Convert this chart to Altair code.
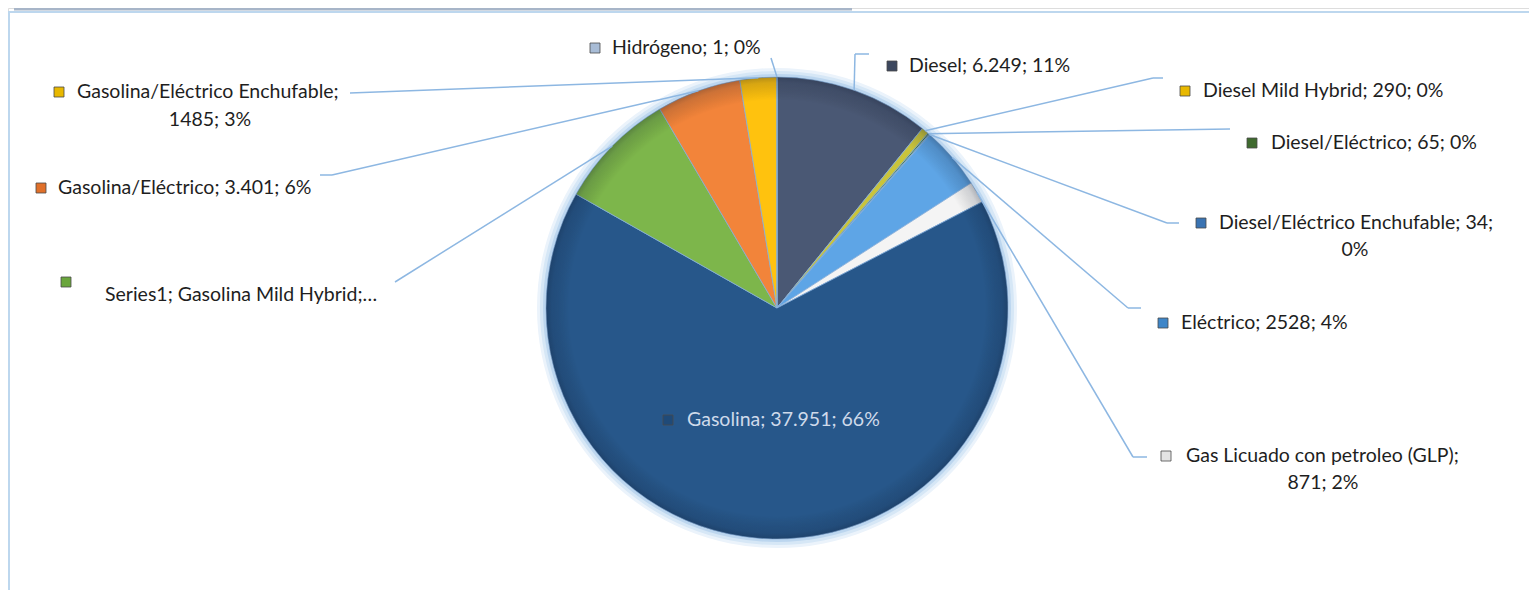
import altair as alt
import pandas as pd

# ---------------- data ----------------
categories = [
    "Diesel", "Diesel Mild Hybrid", "Diesel/Eléctrico", "Diesel/Eléctrico Enchufable",
    "Eléctrico", "Gas Licuado con petroleo (GLP)", "Gasolina", "Gasolina Mild Hybrid",
    "Gasolina/Eléctrico", "Gasolina/Eléctrico Enchufable", "Hidrógeno",
]
values = [6249, 290, 65, 34, 2528, 871, 37951, 4800, 3401, 1485, 1]
label_main = [
    "Diesel; 6.249; 11%", "Diesel Mild Hybrid; 290; 0%", "Diesel/Eléctrico; 65; 0%",
    "Diesel/Eléctrico Enchufable; 34;", "Eléctrico; 2528; 4%", "Gas Licuado con petroleo (GLP);",
    "Gasolina; 37.951; 66%", "Series1; Gasolina Mild Hybrid;…", "Gasolina/Eléctrico; 3.401; 6%",
    "Gasolina/Eléctrico Enchufable;", "Hidrógeno; 1; 0%",
]
label_second = ["", "", "", "0%", "", "871; 2%", "", "", "", "1485; 3%", ""]
slice_colors = [
    "#4a5874", "#c9c43c", "#4f7d3a", "#3f7cc0", "#5ea5e6", "#f4f4f4",
    "#27578a", "#7db64b", "#f2843a", "#ffc20e", "#b8cbe2",
]
icon_colors = [
    "#3c475e", "#e8b800", "#3f6a2e", "#3a73b2", "#3f86c8", "#e4e4e4",
    "#1f4a78", "#6aa63c", "#e0702a", "#e8b800", "#a8bcd6",
]

# ---------------- layout (page pixels) ----------------
OFF = 8
CX, CY, R = 777 - OFF, 308 - OFF, 231
icon_x = [892, 1185, 1252, 1201, 1163, 1166, 668, 66, 41, 59, 595]
icon_y = [66, 91, 143, 223, 323, 456, 420, 282, 188, 92, 48]
text_x = [909, 1203, 1271, 1219, 1181, 1186, 687, 105, 58, 77, 612]
text_y = [66, 91, 143, 223, 323, 456, 420, 295, 188, 92, 48]
line2_x = [0, 0, 0, 1355, 0, 1323, 0, 0, 0, 210, 0]
line2_y = [0, 0, 0, 250, 0, 483, 0, 0, 0, 120, 0]
elbow_x = [855, 1153, 1230, 1167, 1128, 1133, 0, 395, 332, 350, 771]
elbow_y = [54, 78, 129, 223, 308, 457, 0, 282, 175, 93, 58]
end_x = [869, 1163, 1230, 1179, 1141, 1147, 0, 395, 320, 350, 771]
end_y = [54, 78, 129, 223, 308, 457, 0, 282, 175, 93, 58]
has_line = [1, 1, 1, 1, 1, 1, 0, 1, 1, 1, 1]
text_color = ["#1e1e1e"] * 6 + ["#cfdaea"] + ["#1e1e1e"] * 4

FONT = "Lato"
FS = 19.5

df = pd.DataFrame({
    "cat": categories, "value": values, "ord": list(range(len(categories))),
    "lab": label_main, "lab2": label_second, "tcol": text_color, "icol": icon_colors,
    "ix": [v - OFF for v in icon_x], "iy": [v - OFF for v in icon_y],
    "tx": [v - OFF for v in text_x], "ty": [v - OFF for v in text_y],
    "l2x": [v - OFF for v in line2_x], "l2y": [v - OFF for v in line2_y],
    "ex": [v - OFF for v in elbow_x], "ey": [v - OFF for v in elbow_y],
    "fx": [v - OFF for v in end_x], "fy": [v - OFF for v in end_y],
    "has_line": has_line,
})

color_scale = alt.Scale(domain=categories, range=slice_colors)
one = pd.DataFrame({"k": [0]})

W, H = 1521, 582

# frame lines
top_gray = alt.Chart(one).mark_rule(color="#a7b5c8", strokeWidth=3).encode(
    x=alt.value(6), x2=alt.value(852 - OFF), y=alt.value(1))
frame_top = alt.Chart(one).mark_rule(color="#bdd7ee", strokeWidth=2).encode(
    x=alt.value(0), x2=alt.value(W), y=alt.value(4))
frame_left = alt.Chart(one).mark_rule(color="#bdd7ee", strokeWidth=2).encode(
    x=alt.value(1), y=alt.value(4), y2=alt.value(H))

# glow around pie
glow1 = alt.Chart(one).mark_arc(radius=R + 9, theta=0, theta2=6.2832, fill="#ebf3fb").encode(
    x=alt.value(CX), y=alt.value(CY))
glow2 = alt.Chart(one).mark_arc(radius=R + 6, theta=0, theta2=6.2832, fill="#d6e7f6").encode(
    x=alt.value(CX), y=alt.value(CY))
glow3 = alt.Chart(one).mark_arc(radius=R + 3, theta=0, theta2=6.2832, fill="#bcd6ef").encode(
    x=alt.value(CX), y=alt.value(CY))

pie = alt.Chart(df).mark_arc(radius=R, stroke="#86aedb", strokeWidth=0.8).encode(
    theta=alt.Theta("value:Q", stack=True),
    order=alt.Order("ord:Q", sort="ascending"),
    color=alt.Color("cat:N", scale=color_scale, legend=None),
    x=alt.value(CX), y=alt.value(CY),
)

rim = alt.Chart(one).mark_arc(
    radius=R, theta=0, theta2=6.2832,
    fill=alt.Gradient(
        gradient="radial", x1=0.5, y1=0.5, x2=0.5, y2=0.5, r1=0, r2=0.5,
        stops=[
            alt.GradientStop(offset=0, color="rgba(0,0,0,0)"),
            alt.GradientStop(offset=0.9, color="rgba(0,0,0,0)"),
            alt.GradientStop(offset=0.975, color="rgba(10,20,40,0.16)"),
            alt.GradientStop(offset=1, color="rgba(10,20,40,0.30)"),
        ],
    ),
).encode(x=alt.value(CX), y=alt.value(CY))

geo = alt.Chart(df).transform_joinaggregate(
    total="sum(value)"
).transform_window(
    cum="sum(value)", sort=[alt.SortField("ord", order="ascending")], frame=[None, 0]
).transform_calculate(
    ang="2*PI*(datum.cum - datum.value/2)/datum.total",
    sx=f"{CX} + {R}*sin(datum.ang)",
    sy=f"{CY} - {R}*cos(datum.ang)",
).transform_filter("datum.has_line == 1")

lead1 = geo.mark_rule(color="#8db7e2", strokeWidth=1.5).encode(
    x=alt.X("sx:Q", scale=None), y=alt.Y("sy:Q", scale=None),
    x2="ex:Q", y2="ey:Q",
)
lead2 = geo.mark_rule(color="#8db7e2", strokeWidth=1.5).encode(
    x=alt.X("ex:Q", scale=None), y=alt.Y("ey:Q", scale=None),
    x2="fx:Q", y2="fy:Q",
)

icons = alt.Chart(df).mark_point(shape="square", filled=True, size=100, opacity=1,
                                  stroke="#4a4a4a", strokeWidth=0.8).encode(
    x=alt.X("ix:Q", scale=None), y=alt.Y("iy:Q", scale=None),
    fill=alt.Color("icol:N", scale=None),
)

texts = alt.Chart(df).mark_text(align="left", baseline="middle", font=FONT, fontSize=FS).encode(
    x=alt.X("tx:Q", scale=None), y=alt.Y("ty:Q", scale=None),
    text="lab:N", color=alt.Color("tcol:N", scale=None),
)
texts2 = alt.Chart(df).transform_filter("datum.lab2 != ''").mark_text(
    align="center", baseline="middle", font=FONT, fontSize=FS, color="#1e1e1e").encode(
    x=alt.X("l2x:Q", scale=None), y=alt.Y("l2y:Q", scale=None),
    text="lab2:N",
)

chart = alt.layer(
    top_gray, frame_top, frame_left, glow1, glow2, glow3, pie, rim,
    lead1, lead2, icons, texts, texts2,
).properties(
    width=W, height=H, autosize=alt.AutoSizeParams(type="none"), padding=0,
).configure_view(stroke=None).configure(background="white")

chart.save("out.html", embed_options={"renderer": "svg", "actions": False})
